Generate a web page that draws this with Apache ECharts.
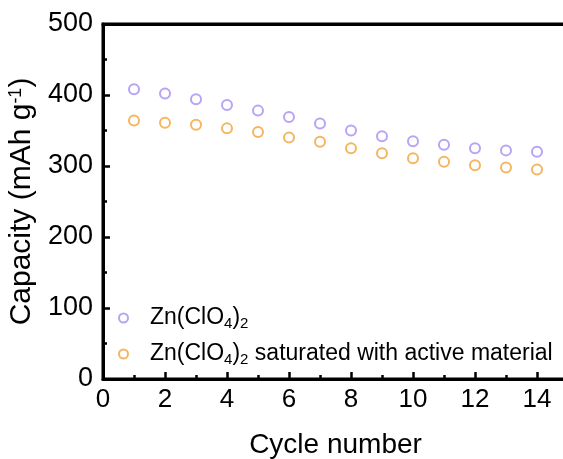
<!DOCTYPE html>
<html>
<head>
<meta charset="utf-8">
<script src="https://cdn.jsdelivr.net/npm/echarts@6/dist/echarts.min.js"></script>
<style>html,body{margin:0;padding:0;background:#fff}#c{width:563px;height:459px}</style>
</head>
<body>
<div id="c"></div>
<script>
var cycles = [1,2,3,4,5,6,7,8,9,10,11,12,13,14];
var znClO4 = [408,402,394,386,378,369,360,350,342,335,330,325,322,320];
var znClO4Saturated = [364,361,358,353,348,340,334,325,318,311,306,301,298,295];
var seriesNames = ['Zn(ClO4)2', 'Zn(ClO4)2 saturated with active material'];
var xTicks = [0,2,4,6,8,10,12,14];
var yTicks = [0,100,200,300,400,500];

function pairs(xs, ys){ return xs.map(function(x,i){return [x, ys[i]];}); }

var chart = echarts.init(document.getElementById('c'), null, {renderer:'canvas'});
var font = 'Liberation Sans, Arial, sans-serif';
var axisCommon = {
  axisLine: {show:true, onZero:false, lineStyle:{color:'#000', width:3}},
  axisTick: {show:true, inside:true, length:7, lineStyle:{color:'#000', width:2.5}},
  minorTick: {show:true, splitNumber:2, length:4, lineStyle:{color:'#000', width:2.5}},
  splitLine: {show:false}
};
chart.setOption({
  animation:false,
  grid:{left:103, top:24, right:-5, bottom:80, outerBoundsMode:'none', containLabel:false,
        show:true, borderColor:'#000', borderWidth:3, backgroundColor:'transparent'},
  legend:{
    orient:'vertical', left:113, top:300, itemGap:10,
    itemWidth:9, itemHeight:9,
    data: seriesNames.map(function(n){return {name:n, icon:'emptyCircle'};}),
    formatter:function(n){
      if(n===seriesNames[0]) return '{n|Zn(ClO}{s|4}{n|)}{s|2}';
      return '{n|Zn(ClO}{s|4}{n|)}{s|2}{n| saturated with active material}';
    },
    textStyle:{fontFamily:font, color:'#000', fontSize:23, padding:[0,0,0,17],
      rich:{n:{fontFamily:font, fontSize:23, color:'#000', lineHeight:24},
            s:{fontFamily:font, fontSize:15, color:'#000', padding:[11,0,0,0], lineHeight:24}}}
  },
  xAxis:[Object.assign({
    type:'value', min:0, max:15, interval:2, position:'bottom',
    name:'Cycle number', nameLocation:'middle', nameGap:52,
    nameTextStyle:{fontFamily:font, fontSize:28, color:'#000'},
    axisLabel:{fontFamily:font, fontSize:26, color:'#000', margin:8,
      customValues: xTicks}
  }, axisCommon),
  {type:'value', min:0, max:15, position:'top', axisLine:{show:true, onZero:false, lineStyle:{color:'#000', width:3}},
   axisTick:{show:false}, axisLabel:{show:false}, splitLine:{show:false}}],
  yAxis:Object.assign({
    type:'value', min:0, max:500, interval:100,
    name:'{a|Capacity (mAh g}{b|-1}{a|)}', nameLocation:'middle', nameGap:56,
    nameTextStyle:{fontFamily:font, fontSize:30, color:'#000', padding:[0,0,0,0],
      rich:{a:{fontFamily:font, fontSize:30, color:'#000', lineHeight:32},
            b:{fontFamily:font, fontSize:18, color:'#000', padding:[0,0,12,0], lineHeight:32}}},
    axisLabel:{fontFamily:font, fontSize:27, color:'#000', margin:10}
  }, axisCommon),
  series:[
    {name:seriesNames[0], type:'scatter', data:pairs(cycles, znClO4), symbol:'emptyCircle', symbolSize:10,
     itemStyle:{color:'#a68cf2', borderColor:'#a68cf2', borderWidth:2.2}},
    {name:seriesNames[1], type:'scatter', data:pairs(cycles, znClO4Saturated), symbol:'emptyCircle', symbolSize:10,
     itemStyle:{color:'#f4a33a', borderColor:'#f4a33a', borderWidth:2.2}}
  ]
});
</script>
</body>
</html>
